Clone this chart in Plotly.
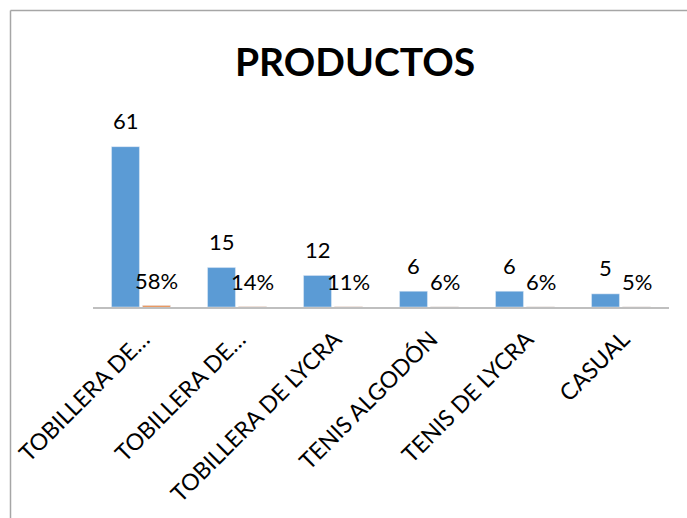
import plotly.graph_objects as go

labels = ["TOBILLERA DE…", "TOBILLERA DE…", "TOBILLERA DE LYCRA", "TENIS ALGODÓN", "TENIS DE LYCRA", "CASUAL"]
cantidad = [61, 15, 12, 6, 6, 5]
porcentaje = [0.58, 0.14, 0.11, 0.06, 0.06, 0.05]

W, H = 687, 518
ML, MR, MT, MB = 93, 18, 123, 211
BARGAP = 0.354
xs = list(range(len(labels)))
half = (1 - BARGAP) / 4  # offset of each bar centre within its category

FONT = "Lato"
fig = go.Figure()
fig.add_trace(go.Bar(x=xs, y=cantidad, marker_color="#5B9BD5", name="Cantidad"))
fig.add_trace(go.Bar(x=xs, y=porcentaje, marker_color="#ED7D31", name="Porcentaje"))

for i, v in enumerate(cantidad):
    fig.add_annotation(x=i - half, y=v, text=str(v), showarrow=False, yanchor="middle",
                       yshift=26, font=dict(family=FONT, size=22, color="#000000"))
for i, v in enumerate(porcentaje):
    fig.add_annotation(x=i + half, y=v, text=f"{v:.0%}", showarrow=False, yanchor="middle",
                       yshift=25, font=dict(family=FONT, size=22, color="#000000"))

pw = W - ML - MR
ph = H - MT - MB
def px_x(p):
    return (p - ML) / pw
def px_y(p):
    return (H - MB - p) / ph

fig.add_shape(type="line", xref="paper", yref="paper", x0=px_x(10.5), x1=px_x(720), y0=px_y(10.5), y1=px_y(10.5),
              line=dict(color="#A6A6A6", width=1.5))
fig.add_shape(type="line", xref="paper", yref="paper", x0=px_x(10.5), x1=px_x(10.5), y0=px_y(10.5), y1=px_y(560),
              line=dict(color="#A6A6A6", width=1.5))

fig.update_layout(
    width=W, height=H,
    margin=dict(l=ML, r=MR, t=MT, b=MB, pad=0, autoexpand=False),
    paper_bgcolor="white", plot_bgcolor="white",
    barmode="group", bargap=BARGAP, bargroupgap=0.1,
    showlegend=False,
    title=dict(text="<b>PRODUCTOS</b>", x=355 / W, xref="container", xanchor="center",
               y=1 - 62 / H, yref="container", yanchor="middle",
               font=dict(family=FONT, size=39, color="#000000")),
    xaxis=dict(range=[-0.5, 5.5], tickvals=xs, ticktext=labels, tickangle=-45,
               showline=True, linecolor="#BFBFBF", linewidth=1.5, ticks="", showgrid=False,
               zeroline=False, ticklabelstandoff=8, ticklabelshift=2, automargin=False,
               tickfont=dict(family=FONT, size=23, color="#000000")),
    yaxis=dict(range=[0, 70], visible=False, showgrid=False, zeroline=False, automargin=False),
)
fig.write_html("out.html")
